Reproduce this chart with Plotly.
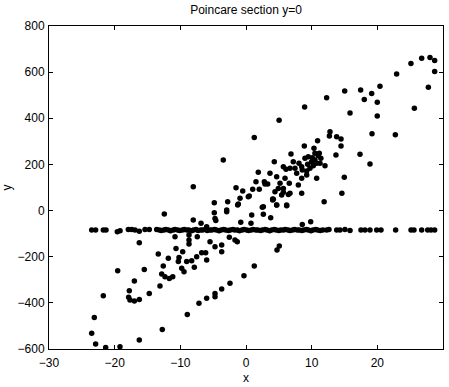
import plotly.graph_objects as go

# Scattered section points (off the horizontal band)
pts_x = [28.02, 26.75, 28.73, 25.12, 28.73, 22.94, 27.77, 25.64, 20.4, 17.46,
         15.03, 19.14, 18.01, 19.99, 12.28, 8.93, 15.84, 19.99, 5.04, 1.26,
         19.19, 22.74, 12.79, 12.7, 13.8, 14.47, 10.9, 14.47, 8.88, 10.35,
         6.85, 13.7, 17.36, 18.88, 12.03, 14.97, 14.6, 11.9, 10.76,
         -3.46, -8.03, -1.52,
         4.31, 1.87, 3.65, -0.5, 0.5, 1.02, 2.02, 1.52, 2.79, 3.3,
         4.67, 5.69, 6.09, 7.2, 7.46, 7.72, 9.24, 8.48, 7.97, 6.59,
         5.69, 8.48, 6.19, 4.67, 4.16, 2.64, -2.79, -0.91, -1.17,
         9.49, 10.1, 10.5, 11.0, 11.4, 10.76, 10.25, 9.74, 9.24, 8.57,
         10.0, 11.16, 8.98, 8.48, 8.07, 11.27, 10.5, 9.39, 6.7, 5.94,
         5.18, 4.92, 4.41, 5.43, 6.7, 2.89, 0.35, 4.06, 6.45, 5.69,
         8.57, 9.85, 2.48, 2.64, 0.87, 3.76, 4.67, 4.06, 6.2, -0.8,
         0.76, -1.33, 5.07, 4.72, 1.26, -0.31, -2.44,
         -4.83, -2.94, -2.94, -4.83, -4.72, -4.6, -1.27, -8.03, -12.44, -6.85,
         -5.99,
         -16.25, -10.81, -8.68, -8.68, -8.68, -7.42, -5.48, -3.7, -4.72, -2.54,
         -1.68, -3.7, -5.99, -6.75, -6.14, -7.51, -8.27, -9.03, -7.87, -9.64,
         -10.2, -10.31, -10.66, -9.79, -9.44, -11.83, -12.6, -13.36, -12.84, -12.34,
         -11.68, -11.16, -13.1, -15.49, -17.0, -17.77, -17.87, -17.67, -17.0, -16.25,
         -14.73, -19.54, -21.73, -23.1, -23.5, -22.9, -21.37, -19.19, -16.25, -12.75,
         -8.94, -7.16, -5.99, -4.72, -4.72, -3.7]
pts_y = [664, 660, 650, 637, 603, 592, 534, 443, 539, 523,
         518, 507, 481, 469, 489, 449, 423, 410, 392, 317,
         333, 329, 342, 323, 320, 310, 303, 280, 280, 270,
         245, 241, 244, 202, 194, 144, 75, 38, 140,
         219, 103, 99,
         212, 166, 162, 85, 63, 92, 92, 125, 125, 115,
         147, 190, 179, 212, 183, 162, 154, 140, 111, 118,
         96, 75, 24, 24, 49, 17, 38, 53, 28,
         233, 229, 219, 238, 227, 205, 194, 183, 171, 176,
         212, 248, 227, 190, 205, 205, 248, 201, 183, 140,
         118, 96, 82, 67, 75, 115, 60, 50, 70, 79,
         -60, -48, 14, -16, -19, -31, 24, 46, 21, -51,
         -55, -135, -154, -171, -240, -282, -315,
         34, 2, -5, -9, -34, -43, 24, -41, -15, -55,
         -70,
         -139, -113, -106, -128, -145, -113, -135, -149, -157, -116,
         -128, -178, -214, -183, -183, -200, -217, -221, -246, -178,
         -203, -221, -164, -250, -265, -207, -240, -188, -275, -287,
         -294, -287, -327, -255, -305, -347, -376, -388, -392, -385,
         -359, -261, -369, -463, -532, -578, -594, -590, -561, -515,
         -450, -402, -380, -359, -373, -340]

# Points on the horizontal band near y = -84
band_x = [-23.5, -22.9, -21.73, -21.32, -19.6, -19.18, -17.92, -17.41, -16.9, -16.25, -15.38, -14.73,
          -13.6, -13.2, -12.9, -12.5, -12.2, -11.8, -11.5, -11.1, -10.8, -10.4,
          -10.1, -9.7, -9.4, -9.0, -8.7, -8.3, -8.0, -7.6, -7.3, -6.9,
          -6.6, -6.2, -5.9, -5.5, -5.2, -4.8, -4.5, -4.1, -3.8, -3.4,
          -3.1, -2.7, -2.4, -2.0, -1.7, -1.3, -1.0, -0.6, -0.3, 0.1,
          0.4, 0.8, 1.1, 1.5, 1.8, 2.2, 2.5, 2.9, 3.2, 3.6,
          3.9, 4.3, 4.6, 5.0, 5.3, 5.7, 6.0, 6.4, 6.7, 7.1,
          7.4, 7.8, 8.1, 8.5, 8.8, 9.2, 9.5, 9.9, 10.2, 10.6,
          10.9, 11.3, 11.7,
          12.29, 12.64, 13.81, 14.31, 15.07, 15.84, 17.51, 18.12, 18.88, 19.9,
          20.56, 22.79, 25.13, 25.58, 26.75, 27.67, 28.17, 28.73]
band_y = [-84, -84, -84, -84, -92, -88, -82, -82, -84, -90, -82, -82,
          -82, -84, -86, -84, -82, -84, -88, -84, -82, -84,
          -86, -84, -82, -84, -84, -88, -84, -82, -86, -84,
          -84, -82, -86, -84, -84, -82, -84, -88, -84, -82,
          -84, -86, -84, -82, -84, -84, -88, -84, -82, -84,
          -86, -84, -82, -84, -84, -86, -84, -82, -84, -88,
          -84, -82, -84, -86, -84, -84, -82, -84, -86, -84,
          -82, -84, -84, -86, -84, -82, -84, -88, -84, -82,
          -84, -86, -84,
          -84, -82, -84, -84, -82, -86, -84, -84, -84, -84,
          -84, -84, -84, -84, -84, -84, -84, -84]

x_ticks = [-30, -20, -10, 0, 10, 20, 30]
y_ticks = [-600, -400, -200, 0, 200, 400, 600, 800]
x_range = [-30, 30]
y_range = [-600, 800]

font = "Liberation Sans, Arial, Helvetica, sans-serif"

fig = go.Figure()
for xs, ys in ((band_x, band_y), (pts_x, pts_y)):
    fig.add_trace(go.Scatter(x=xs, y=ys, mode="markers",
                             marker=dict(color="black", size=5.5, line=dict(width=0)),
                             showlegend=False, hoverinfo="skip"))

axis_common = dict(showline=True, linecolor="black", linewidth=1, mirror="allticks",
                   ticks="inside", ticklen=4, tickwidth=1, tickcolor="black",
                   showgrid=False, zeroline=False, automargin=False,
                   tickfont=dict(family=font, size=12, color="black"))

fig.update_layout(
    template="none",
    width=449, height=387,
    margin=dict(l=49, r=6, t=26, b=38, pad=0),
    paper_bgcolor="white", plot_bgcolor="white",
    font=dict(family=font, size=12, color="black"),
    title=dict(text="Poincare section y=0", x=0.5, xref="paper", xanchor="center",
               y=1, yref="container", yanchor="top", pad=dict(t=6),
               font=dict(family=font, size=12, color="black")),
    xaxis=dict(range=x_range, tickvals=x_ticks, ticklabelstandoff=3,
               title=dict(text="x", standoff=4, font=dict(family=font, size=12)), **axis_common),
    yaxis=dict(range=y_range, tickvals=y_ticks, ticklabelstandoff=1,
               title=dict(text="y", standoff=8, font=dict(family=font, size=12)), **axis_common),
)

fig.write_html("out.html", config={"displayModeBar": False, "staticPlot": True},
               post_script="document.body.style.margin='0';document.body.style.overflow='hidden';")
